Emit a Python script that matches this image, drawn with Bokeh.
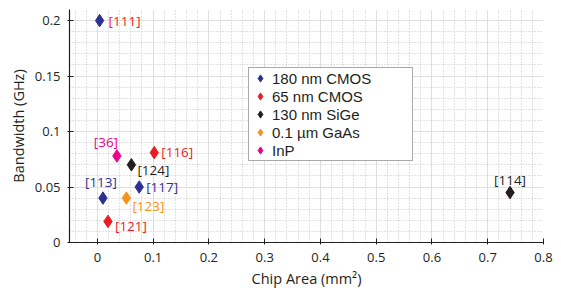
from bokeh.plotting import figure
from bokeh.models import ColumnDataSource, Legend, LegendItem, FixedTicker, Range1d
from bokeh.core.properties import value
from bokeh.embed import file_html
from bokeh.resources import INLINE

# ---- data ----
series = ["180 nm CMOS", "65 nm CMOS", "130 nm SiGe", "0.1 µm GaAs", "InP"]
series_colors = ["#2E3192", "#ED1C24", "#231F20", "#F7941D", "#EC008C"]

cmos180_area = [0.004, 0.01, 0.075]
cmos180_bw = [0.2, 0.04, 0.05]
cmos180_refs = ["[111]", "[113]", "[117]"]

cmos65_area = [0.102, 0.019]
cmos65_bw = [0.081, 0.019]
cmos65_refs = ["[116]", "[121]"]

sige_area = [0.061, 0.74]
sige_bw = [0.07, 0.045]
sige_refs = ["[124]", "[114]"]

gaas_area = [0.052]
gaas_bw = [0.04]
gaas_refs = ["[123]"]

inp_area = [0.035]
inp_bw = [0.078]
inp_refs = ["[36]"]

x_ticks = [0, 0.1, 0.2, 0.3, 0.4, 0.5, 0.6, 0.7, 0.8]
x_tick_labels = ["0", "0.1", "0.2", "0.3", "0.4", "0.5", "0.6", "0.7", "0.8"]
y_ticks = [0, 0.05, 0.1, 0.15, 0.2]
y_tick_labels = ["0", "0.05", "0.1", "0.15", "0.2"]

# ---- label styling (colour, pixel offsets, alignment) ----
label_style = {
    "[111]": ("#ED1C24", 9, 0, "left"),
    "[113]": ("#2E3192", -2, -16, "center"),
    "[117]": ("#2E3192", 7, 0, "left"),
    "[116]": ("#ED1C24", 7, -1, "left"),
    "[121]": ("#ED1C24", 7, 5, "left"),
    "[124]": ("#231F20", 6, 5, "left"),
    "[114]": ("#231F20", 0, -13, "center"),
    "[123]": ("#F7941D", 6, 8, "left"),
    "[36]": ("#EC008C", -11, -14, "center"),
}

groups = [
    (cmos180_area, cmos180_bw, cmos180_refs),
    (cmos65_area, cmos65_bw, cmos65_refs),
    (sige_area, sige_bw, sige_refs),
    (gaas_area, gaas_bw, gaas_refs),
    (inp_area, inp_bw, inp_refs),
]

p = figure(width=561, height=290, output_backend="svg", toolbar_location=None,
           x_range=Range1d(-0.05, 0.8), y_range=Range1d(0, 0.21),
           min_border_left=69, min_border_right=18, min_border_top=9, min_border_bottom=47)
p.outline_line_color = None
p.background_fill_color = "white"
p.border_fill_color = "white"

x_minor = [round(-0.04 + 0.02 * i, 2) for i in range(43)]
y_minor = [round(0.01 * i, 2) for i in range(22)]
p.xaxis.ticker = FixedTicker(ticks=x_ticks, minor_ticks=x_minor)
p.yaxis.ticker = FixedTicker(ticks=y_ticks, minor_ticks=y_minor)
p.xaxis.major_label_overrides = dict(zip(x_ticks, x_tick_labels))
p.yaxis.major_label_overrides = dict(zip(y_ticks, y_tick_labels))

for ax in (p.xaxis, p.yaxis):
    ax.axis_line_color = "#231F20"
    ax.axis_line_width = 1.2
    ax.major_tick_line_color = "#231F20"
    ax.major_tick_in = 4
    ax.major_tick_out = 2
    ax.minor_tick_line_color = None
    ax.major_label_text_font = "Open Sans"
    ax.major_label_text_font_size = "13px"
    ax.major_label_text_color = "#231F20"
    ax.axis_label_text_font = "Open Sans"
    ax.axis_label_text_font_size = "14.5px"
    ax.axis_label_text_font_style = "normal"
    ax.axis_label_text_color = "#231F20"

p.xaxis.axis_label = "Chip Area (mm²)"
p.yaxis.axis_label = "Bandwidth (GHz)"
p.xaxis.major_label_standoff = 6
p.xaxis.axis_label_standoff = 4
p.yaxis.major_label_standoff = 5
p.yaxis.axis_label_standoff = 4

for g in (p.xgrid, p.ygrid):
    g.grid_line_color = "#dedede"
    g.grid_line_width = 1
    g.minor_grid_line_color = "#c4c4c4"
    g.minor_grid_line_dash = "1 2"
    g.minor_grid_line_width = 1

items = []
for (xs, ys, refs), name, col in zip(groups, series, series_colors):
    src = ColumnDataSource(dict(x=xs, y=ys))
    r = p.scatter("x", "y", source=src, marker="diamond", size=12.5,
                  fill_color=col, line_color=col)
    items.append(LegendItem(label=name, renderers=[r]))
    lsrc = ColumnDataSource(dict(
        x=xs, y=ys, t=refs,
        c=[label_style[t][0] for t in refs],
        dx=[label_style[t][1] for t in refs],
        dy=[label_style[t][2] for t in refs],
        al=[label_style[t][3] for t in refs],
    ))
    p.text("x", "y", text="t", source=lsrc, text_color="c", x_offset="dx", y_offset="dy",
           text_align="al", text_baseline="middle", text_font=value("Open Sans"),
           text_font_size="13.5px")

legend = Legend(items=items, location=(179, 81), orientation="vertical")
legend.label_text_font = "Liberation Sans"
legend.label_text_font_size = "15px"
legend.label_text_color = "#231F20"
legend.label_height = 18
legend.glyph_height = 18
legend.glyph_width = 20
legend.label_standoff = 2
legend.label_width = 139
legend.spacing = 0
legend.padding = 1
legend.margin = 0
legend.border_line_color = "#555555"
legend.border_line_width = 1
legend.background_fill_color = "white"
legend.background_fill_alpha = 1
p.add_layout(legend, "center")

open("out.html", "w").write(file_html(p, INLINE))
